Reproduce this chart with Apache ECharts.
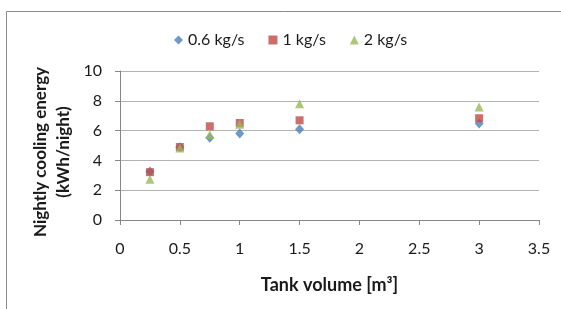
<!DOCTYPE html>
<html>
<head>
<meta charset="utf-8">
<script src="https://cdn.jsdelivr.net/npm/echarts@6/dist/echarts.min.js"></script>
<style>
  html, body { margin: 0; padding: 0; background: #fff; }
  #chart { width: 561px; height: 309px; }
</style>
</head>
<body>
<div id="chart"></div>
<script>
// tank volumes (m3)
const volumes = [0.25, 0.5, 0.75, 1, 1.5, 3]
// nightly cooling energy (kWh/night) per flow rate
const flow06 = [3.25, 4.89, 5.52, 5.8, 6.09, 6.47]
const flow1 = [3.21, 4.9, 6.29, 6.51, 6.69, 6.83]
const flow2 = [2.74, 4.84, 5.73, 6.43, 7.81, 7.59]
const seriesNames = ['0.6 kg/s', '1 kg/s', '2 kg/s']

const colors = {
  blue: '#4A7EBB',
  red: '#BE4B48',
  green: '#98B954',
  axis: '#868686',
  grid: '#B3B3B3',
  text: '#1A1A1A'
}

const font = 'Lato, "Open Sans", sans-serif'

function pairs(ys) {
  return volumes.map((v, i) => [v, ys[i]])
}

const chart = echarts.init(document.getElementById('chart'))

const option = {
  backgroundColor: '#fff',
  animation: false,
  textStyle: { fontFamily: font },
  graphic: [
    {
      type: 'rect',
      shape: { x: 6.5, y: 11.5, width: 570, height: 320 },
      style: { fill: 'none', stroke: '#8C8C8C', lineWidth: 1 },
      silent: true
    },
    {
      // y axis title, two lines, rotated
      type: 'text',
      x: 52,
      y: 152,
      rotation: Math.PI / 2,
      style: {
        text: 'Nightly cooling energy\n(kWh/night)',
        fontFamily: font,
        fontSize: 17,
        fontWeight: 'bold',
        lineHeight: 23,
        fill: colors.text,
        align: 'center',
        verticalAlign: 'middle'
      },
      silent: true
    }
  ],
  legend: {
    top: 27,
    left: 169,
    itemGap: 24,
    itemWidth: 9,
    itemHeight: 9,
    textStyle: { fontFamily: font, fontSize: 16, color: colors.text },
    data: [
      { name: seriesNames[0], icon: 'diamond' },
      { name: seriesNames[1], icon: 'rect' },
      { name: seriesNames[2], icon: 'triangle' }
    ]
  },
  grid: {
    left: 120,
    right: 22,
    top: 71,
    bottom: 89
  },
  xAxis: {
    type: 'value',
    min: 0,
    max: 3.5,
    interval: 0.5,
    name: 'Tank volume [m³]',
    nameLocation: 'middle',
    nameGap: 56,
    nameTextStyle: { fontFamily: font, fontSize: 18, fontWeight: 'bold', color: colors.text },
    axisLine: { lineStyle: { color: colors.axis } },
    axisTick: { show: true, length: 5, lineStyle: { color: colors.axis } },
    axisLabel: { fontFamily: font, fontSize: 16, color: colors.text, margin: 21 },
    splitLine: { show: false }
  },
  yAxis: {
    type: 'value',
    min: 0,
    max: 10,
    interval: 2,
    axisLine: { show: true, lineStyle: { color: colors.axis } },
    axisTick: { show: true, length: 5, lineStyle: { color: colors.axis } },
    axisLabel: { fontFamily: font, fontSize: 16, color: colors.text, margin: 18 },
    splitLine: { show: true, lineStyle: { color: colors.grid, width: 1 } }
  },
  series: [
    {
      name: seriesNames[0],
      type: 'scatter',
      symbol: 'diamond',
      symbolSize: [9, 10],
      itemStyle: { color: colors.blue },
      data: pairs(flow06)
    },
    {
      name: seriesNames[1],
      type: 'scatter',
      symbol: 'rect',
      symbolSize: 8,
      itemStyle: { color: colors.red },
      data: pairs(flow1)
    },
    {
      name: seriesNames[2],
      type: 'scatter',
      symbol: 'triangle',
      symbolSize: [9, 9],
      itemStyle: { color: colors.green },
      data: pairs(flow2)
    }
  ]
}

chart.setOption(option)
</script>
</body>
</html>
